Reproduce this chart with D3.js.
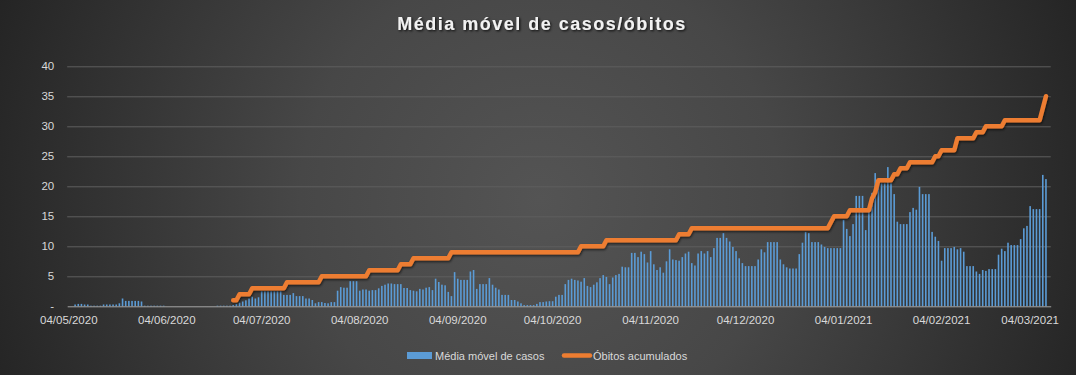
<!DOCTYPE html>
<html>
<head>
<meta charset="utf-8">
<script src="https://cdn.jsdelivr.net/npm/d3@7"></script>
<style>
  body { margin: 0; background: #262626; }
  svg { display: block; }
  text { font-family: "Liberation Sans", Arial, sans-serif; }
</style>
</head>
<body>
<div id="chart"></div>
<script>
// moving average of cases (bars) and accumulated deaths (line), daily from 04/05/2020

var firstDay = new Date(2020, 4, 4), lastDay = new Date(2021, 2, 10);

var tickLabels = ["04/05/2020", "04/06/2020", "04/07/2020", "04/08/2020", "04/09/2020",
  "04/10/2020", "04/11/2020", "04/12/2020", "04/01/2021", "04/02/2021", "04/03/2021"];
var yTicks = [0, 5, 10, 15, 20, 25, 30, 35, 40];

// Média móvel de casos, one array per month
var casosMai = [0, 0, 0.3, 0.4, 0.4, 0.3, 0.3, 0.1, 0.1, 0.1, 0.1, 0.3, 0.3, 0.3, 0.3, 0.3,
  0.5, 1.3, 0.9, 0.9, 0.9, 0.9, 0.9, 0.8, 0.1, 0.1, 0.1, 0.1];
var casosJun = [0.1, 0.1, 0.1, 0, 0, 0, 0, 0, 0, 0, 0, 0, 0, 0, 0, 0, 0, 0, 0,
  0.1, 0.1, 0.1, 0.1, 0.1, 0.2, 0.4, 0.6, 0.8, 1.0, 1.3];
var casosJul = [1.6, 1.3, 1.5, 2.5, 2.5, 2.5, 2.5, 2.5, 2.5, 2.5, 1.9, 1.9, 1.9, 2.2, 1.7, 1.7,
  1.7, 1.3, 1.3, 1.05, 0.5, 0.7, 0.7, 0.55, 0.5, 0.7, 0.7, 2.6, 3.2, 3.1, 3.1];
var casosAgo = [4.2, 4.2, 4.2, 2.6, 2.8, 2.8, 2.6, 2.7, 2.7, 3.0, 3.4, 3.6, 3.8, 3.8, 3.7, 3.7,
  3.7, 3.05, 3.05, 2.7, 2.6, 2.5, 2.9, 2.8, 3.1, 3.2, 2.7, 4.6, 4.05, 3.6, 3.5];
var casosSet = [2.4, 1.7, 5.7, 4.6, 4.4, 4.4, 4.4, 5.8, 6.05, 2.9, 3.7, 3.7, 3.7, 4.7, 3.6,
  3.1, 2.8, 1.9, 1.9, 1.9, 1.05, 1.05, 0.8, 0.5, 0.2, 0.2, 0.2, 0.2, 0.4, 0.7];
var casosOut = [0.7, 0.8, 0.85, 0.85, 1.6, 1.9, 1.9, 3.7, 4.4, 4.6, 4.4, 4.3, 4.1, 4.7, 3.4,
  3.2, 3.6, 4.0, 4.7, 5.2, 4.9, 3.7, 4.8, 5.2, 5.4, 6.6, 6.5, 6.5, 8.9, 8.9, 8.2];
var casosNov = [9.1, 8.7, 7.3, 9.2, 7.0, 6.05, 6.5, 5.6, 7.5, 9.5, 7.8, 7.7, 7.6, 8.2, 8.8,
  9.1, 7.2, 6.8, 8.8, 9.2, 8.8, 9.2, 8.2, 9.7, 11.4, 11.4, 12.2, 11.4, 10.8, 9.9];
var casosDez = [9.2, 8.0, 7.2, 6.7, 6.7, 6.7, 6.7, 7.8, 9.5, 9.0, 10.7, 10.7, 10.7, 10.7, 7.8,
  7.0, 6.5, 6.3, 6.3, 6.3, 8.7, 10.6, 12.4, 12.2, 10.7, 10.7, 10.7, 10.3, 9.9, 9.7, 9.7];
var casosJan = [9.7, 9.7, 9.7, 14.4, 12.9, 11.7, 13.7, 18.4, 18.4, 18.4, 12.7, 16.1, 18.9,
  22.2, 20.5, 20.5, 20.5, 23.2, 20.5, 18.7, 14.1, 13.7, 13.7, 13.7, 15.7, 16.4, 16.1, 19.9,
  18.7, 18.7, 18.7];
var casosFev = [12.4, 11.6, 10.9, 7.6, 9.7, 9.7, 9.7, 9.9, 9.5, 9.7, 9.1, 6.7, 6.7, 6.7, 5.8,
  5.4, 6.05, 5.9, 6.2, 6.2, 6.2, 8.6, 9.6, 9.2, 10.6, 10.2, 10.2, 10.2];
var casosMar = [11.2, 13.0, 13.4, 16.7, 16.2, 16.2, 16.2, 21.9, 21.2, null];

// Óbitos acumulados, one array per month
var obitosMai = [null, null, null, null, null, null, null, null, null, null, null, null, null, null,
  null, null, null, null, null, null, null, null, null, null, null, null, null, null];
var obitosJun = [null, null, null, null, null, null, null, null, null, null, null, null, null, null,
  null, null, null, null, null, null, null, null, null, null, 1, 1, 2, 2, 2, 2];
var obitosJul = [3, 3, 3, 3, 3, 3, 3, 3, 3, 3, 3, 4, 4, 4, 4, 4, 4, 4, 4, 4, 4, 4,
  5, 5, 5, 5, 5, 5, 5, 5, 5];
var obitosAgo = [5, 5, 5, 5, 5, 5, 6, 6, 6, 6, 6, 6, 6, 6, 6, 6, 7, 7, 7, 7,
  8, 8, 8, 8, 8, 8, 8, 8, 8, 8, 8];
var obitosSet = [8, 9, 9, 9, 9, 9, 9, 9, 9, 9, 9, 9, 9, 9, 9, 9, 9, 9, 9, 9, 9, 9, 9, 9, 9, 9,
  9, 9, 9, 9];
var obitosOut = [9, 9, 9, 9, 9, 9, 9, 9, 9, 9, 9, 9, 10, 10, 10, 10, 10, 10, 10, 10,
  11, 11, 11, 11, 11, 11, 11, 11, 11, 11, 11];
var obitosNov = [11, 11, 11, 11, 11, 11, 11, 11, 11, 11, 11, 11, 12, 12, 12, 12,
  13, 13, 13, 13, 13, 13, 13, 13, 13, 13, 13, 13, 13, 13];
var obitosDez = [13, 13, 13, 13, 13, 13, 13, 13, 13, 13, 13, 13, 13, 13, 13, 13, 13, 13, 13, 13,
  13, 13, 13, 13, 13, 13, 13, 13, 13, 13, 14];
var obitosJan = [15, 15, 15, 15, 15, 16, 16, 16, 16, 16, 16, 16, 18, 19, 21, 21, 21, 21, 21,
  22, 22, 23, 23, 23, 24, 24, 24, 24, 24, 24, 24];
var obitosFev = [24, 25, 25, 26, 26, 26, 26, 26, 28, 28, 28, 28, 28, 28, 29, 29, 29,
  30, 30, 30, 30, 30, 30, 31, 31, 31, 31, 31];
var obitosMar = [31, 31, 31, 31, 31, 31, 31, 33, 35, null];

var casos = [].concat(casosMai, casosJun, casosJul, casosAgo, casosSet, casosOut,
  casosNov, casosDez, casosJan, casosFev, casosMar);
var obitos = [].concat(obitosMai, obitosJun, obitosJul, obitosAgo, obitosSet, obitosOut,
  obitosNov, obitosDez, obitosJan, obitosFev, obitosMar);

var fmtDay = d3.timeFormat("%d/%m/%Y");
var days = d3.timeDay.range(firstDay, d3.timeDay.offset(lastDay, 1)).map(fmtDay);
var rows = days.map(function(d, i){ return {day: d, casos: casos[i], obitos: obitos[i]}; });

var width = 1076, height = 375,
    plot = {left: 67.2, right: 1050.7, top: 66.3, bottom: 306.3},
    txtColor = "#d9d9d9", barColor = "#5b9bd5", lineColor = "#ed7d31";

var xScale = d3.scaleBand().domain(days).range([plot.left, plot.right]).padding(0);
var yScale = d3.scaleLinear().domain([0, 40]).range([plot.bottom, plot.top]);
var bw = xScale.bandwidth();

var svg = d3.select("#chart").append("svg")
  .attr("width", width)
  .attr("height", height);

var defs = svg.append("defs");
var grad = defs.append("radialGradient")
  .attr("id", "bgGrad")
  .attr("gradientUnits", "userSpaceOnUse")
  .attr("cx", 540).attr("cy", 200).attr("r", 600);
grad.append("stop").attr("offset", 0).attr("stop-color", "#545454");
grad.append("stop").attr("offset", 0.4).attr("stop-color", "#474747");
grad.append("stop").attr("offset", 1).attr("stop-color", "#222222");

var tshadow = defs.append("filter").attr("id", "titleShadow")
  .attr("x", "-10%").attr("y", "-30%").attr("width", "120%").attr("height", "160%");
tshadow.append("feDropShadow").attr("dx", 1.2).attr("dy", 1.2).attr("stdDeviation", 0.8)
  .attr("flood-color", "#000").attr("flood-opacity", 0.8);

var lshadow = defs.append("filter").attr("id", "lineShadow")
  .attr("x", "-5%").attr("y", "-10%").attr("width", "110%").attr("height", "120%");
lshadow.append("feDropShadow").attr("dx", 0.8).attr("dy", 1.5).attr("stdDeviation", 1)
  .attr("flood-color", "#000").attr("flood-opacity", 0.6);

svg.append("rect")
  .attr("width", width).attr("height", height)
  .attr("fill", "url(#bgGrad)");

// title
var title = svg.append("text")
  .attr("x", 542).attr("y", 29.5)
  .attr("text-anchor", "middle")
  .attr("fill", "#f2f2f2")
  .attr("font-size", 18)
  .attr("font-weight", "bold")
  .attr("filter", "url(#titleShadow)")
  .text("Média móvel de casos/óbitos");
var tw = title.node().getComputedTextLength();
title.attr("letter-spacing", ((288 - tw) / 26).toFixed(2) + "px");

// y grid + labels
var yAxis = svg.append("g")
  .attr("transform", "translate(" + plot.left + ",0)")
  .call(d3.axisLeft(yScale)
    .tickValues(yTicks)
    .tickSize(-(plot.right - plot.left))
    .tickFormat(function(v){ return v === 0 ? "-" : v; }));
yAxis.select(".domain").remove();
yAxis.selectAll(".tick line")
  .attr("stroke", "#5f5f5f")
  .attr("stroke-width", 1)
  .filter(function(v){ return v === 0; }).remove();
yAxis.selectAll(".tick text")
  .attr("x", -13)
  .attr("fill", txtColor)
  .attr("font-size", 11.5)
  .style("font-family", "'Liberation Sans', Arial, sans-serif");

// bars
svg.append("g").selectAll("rect")
  .data(rows.filter(function(d){ return d.casos > 0; }))
  .join("rect")
  .attr("x", function(d){ return xScale(d.day) + bw / 2 - 0.8; })
  .attr("y", function(d){ return yScale(d.casos); })
  .attr("width", 1.6)
  .attr("height", function(d){ return yScale(0) - yScale(d.casos); })
  .attr("fill", barColor);

// x axis
var xAxis = svg.append("g")
  .attr("transform", "translate(0," + plot.bottom + ")")
  .call(d3.axisBottom(xScale)
    .tickValues(tickLabels)
    .tickSize(0)
    .tickSizeOuter(0)
    .tickPadding(10));
xAxis.select(".domain").attr("stroke", "#a6a6a6").attr("stroke-width", 1);
xAxis.selectAll(".tick text")
  .attr("fill", txtColor)
  .attr("font-size", 11.5)
  .style("font-family", "'Liberation Sans', Arial, sans-serif");

// accumulated deaths line
var line = d3.line()
  .defined(function(d){ return d.obitos != null; })
  .x(function(d){ return xScale(d.day) + bw / 2; })
  .y(function(d){ return yScale(d.obitos); });

svg.append("path")
  .datum(rows)
  .attr("d", line)
  .attr("fill", "none")
  .attr("stroke", lineColor)
  .attr("stroke-width", 4.5)
  .attr("stroke-linejoin", "round")
  .attr("stroke-linecap", "round")
  .attr("filter", "url(#lineShadow)");

// legend
var legend = svg.append("g").attr("font-size", 11).attr("fill", txtColor);
legend.append("rect")
  .attr("x", 407).attr("y", 352).attr("width", 25).attr("height", 7)
  .attr("fill", barColor);
legend.append("text")
  .attr("x", 435).attr("y", 359.5)
  .text("Média móvel de casos");
legend.append("line")
  .attr("x1", 564).attr("x2", 590).attr("y1", 355.5).attr("y2", 355.5)
  .attr("stroke", lineColor).attr("stroke-width", 4.5).attr("stroke-linecap", "round");
legend.append("text")
  .attr("x", 593).attr("y", 359.5)
  .text("Óbitos acumulados");
</script>
</body>
</html>
